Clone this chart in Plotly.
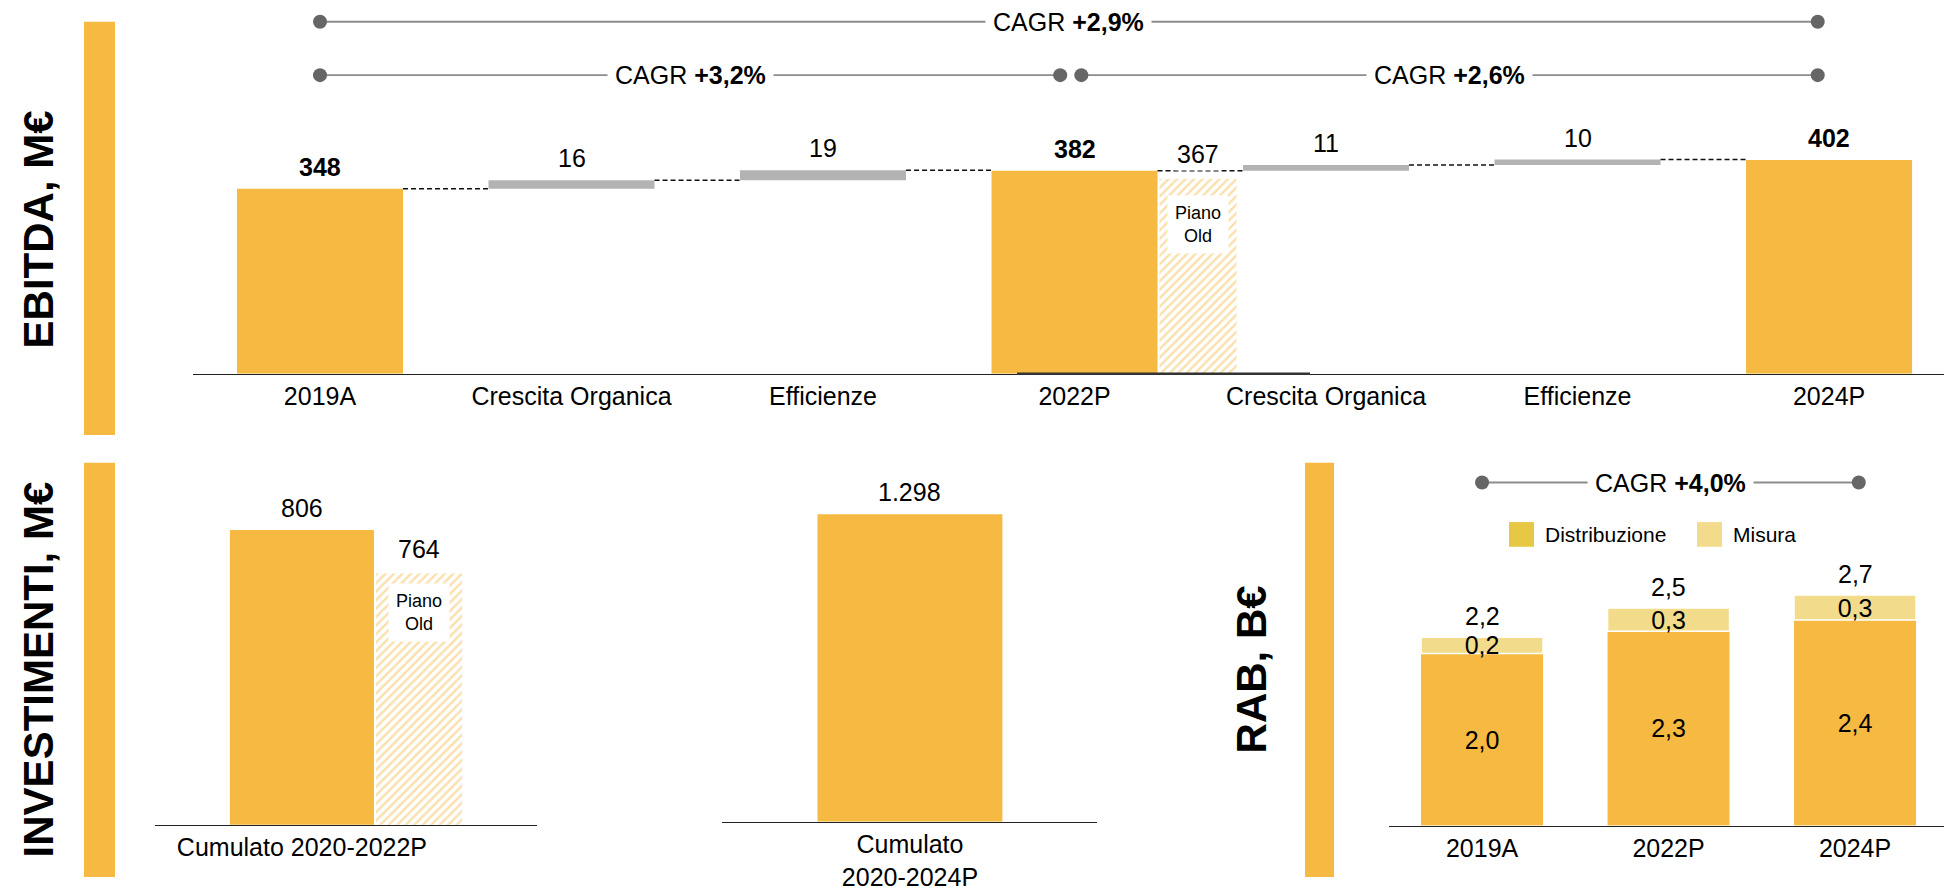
import plotly.graph_objects as go

W, H = 1944, 891
FONT = "Arial, Liberation Sans, sans-serif"
ORANGE = "#F6B942"
GREY = "#B3B3B3"
MISURA = "#F2DC8C"
DISTR_LEG = "#E7C845"
HATCH = "#F6C058"
DOT = "#666666"
LINE = "#8C8C8C"

# ---------------- data ----------------
ebitda_cats = ["2019A", "Crescita Organica", "Efficienze", "2022P",
               "Crescita Organica", "Efficienze", "2024P"]
ebitda_vals = [348, 16, 19, 382, 11, 10, 402]
ebitda_kind = ["total", "delta", "delta", "total", "delta", "delta", "total"]
ebitda_old_2022 = 367
cagr_all = "+2,9%"
cagr_19_22 = "+3,2%"
cagr_22_24 = "+2,6%"

inv_cat_a = ["Cumulato 2020-2022P"]
inv_val_a = [806]
inv_old_a = [764]
inv_cat_b = ["Cumulato<br>2020-2024P"]
inv_val_b = [1298]
inv_lbl_a = ["806"]
inv_lbl_old = ["764"]
inv_lbl_b = ["1.298"]

rab_cats = ["2019A", "2022P", "2024P"]
rab_distr = [2.0, 2.26, 2.39]
rab_misura = [0.19, 0.27, 0.29]
rab_distr_lbl = ["2,0", "2,3", "2,4"]
rab_misura_lbl = ["0,2", "0,3", "0,3"]
rab_tot_lbl = ["2,2", "2,5", "2,7"]
cagr_rab = "+4,0%"


def px(x):
    return x / W


def py(y):
    return 1 - y / H


fig = go.Figure()
ann = []
shapes = []

# ---------------- EBITDA waterfall ----------------
BW = 0.66
idx = list(range(len(ebitda_cats)))
bases, tops = [], []
run = 0
for v, k in zip(ebitda_vals, ebitda_kind):
    if k == "total":
        bases.append(0)
        run = v
    else:
        bases.append(run)
        run += v
    tops.append(run)
colors = [ORANGE if k == "total" else GREY for k in ebitda_kind]
fig.add_trace(go.Bar(x=idx, y=ebitda_vals, base=bases, width=BW,
                     marker=dict(color=colors, line=dict(width=0)),
                     xaxis="x", yaxis="y", hoverinfo="skip", showlegend=False))
i22 = ebitda_cats.index("2022P")
OLD_OFF, OLD_W = BW / 2 + 0.008, 0.306
PATTERN = dict(shape="/", fgcolor=HATCH, bgcolor="white", size=6, solidity=0.4)
fig.add_trace(go.Bar(x=[i22], y=[ebitda_old_2022], offset=OLD_OFF, width=OLD_W,
                     marker=dict(color="white", line=dict(width=0), pattern=PATTERN),
                     xaxis="x", yaxis="y", hoverinfo="skip", showlegend=False))
# connectors
for i in range(len(idx) - 1):
    shapes.append(dict(type="line", xref="x", yref="y", x0=i + BW / 2, x1=i + 1 - BW / 2,
                       y0=tops[i], y1=tops[i], line=dict(color="#111", width=1.5, dash="5px,3px")))
# value labels
for i, (v, k) in enumerate(zip(ebitda_vals, ebitda_kind)):
    txt = f"<b>{v}</b>" if k == "total" else f"{v}"
    ann.append(dict(x=i, y=tops[i], xref="x", yref="y", text=txt, showarrow=False,
                    xanchor="center", yanchor="middle", yshift=22,
                    font=dict(size=25, color="#000")))
old_x = i22 + OLD_OFF + OLD_W / 2
ann.append(dict(x=old_x, y=ebitda_old_2022, xref="x", yref="y", text=str(ebitda_old_2022),
                showarrow=False, xanchor="center", yanchor="middle", yshift=25,
                bgcolor="white", borderpad=2, font=dict(size=25, color="#000")))
ann.append(dict(x=old_x, y=ebitda_old_2022, xref="x", yref="y", text="Piano<br>Old",
                showarrow=False, xanchor="center", yanchor="top", yshift=-16,
                bgcolor="white", borderpad=7, font=dict(size=18, color="#000")))


# CAGR lines
def cagr_line(xref, x0, x1, ypix, label):
    yp = py(ypix)
    shapes.append(dict(type="line", xref=xref, yref="paper", x0=x0, x1=x1, y0=yp, y1=yp,
                       line=dict(color=LINE, width=1.8), layer="below"))
    for xx in (x0, x1):
        shapes.append(dict(type="circle", xref=xref, yref="paper", xsizemode="pixel",
                           ysizemode="pixel", xanchor=xx, yanchor=yp, x0=-7, x1=7, y0=-7, y1=7,
                           fillcolor=DOT, line=dict(width=0)))
    ann.append(dict(x=(x0 + x1) / 2, y=yp, xref=xref, yref="paper",
                    text=f"CAGR <b>{label}</b>", showarrow=False, bgcolor="white",
                    xanchor="center", yanchor="middle",
                    borderpad=7, font=dict(size=25, color="#000")))


cagr_line("x", 0, 5.955, 22, cagr_all)
cagr_line("x", 0, 2.943, 76, cagr_19_22)
cagr_line("x", 3.027, 5.955, 76, cagr_22_24)

# ---------------- Investimenti ----------------
BWA = 0.5
fig.add_trace(go.Bar(x=inv_cat_a, y=inv_val_a, width=BWA, marker=dict(color=ORANGE, line=dict(width=0)),
                     xaxis="x2", yaxis="y2", hoverinfo="skip", showlegend=False))
IOLD_OFF, IOLD_W = 0.257, 0.299
fig.add_trace(go.Bar(x=inv_cat_a, y=inv_old_a, offset=IOLD_OFF, width=IOLD_W,
                     marker=dict(color="white", line=dict(width=0), pattern=PATTERN),
                     xaxis="x2", yaxis="y2", hoverinfo="skip", showlegend=False))
ann.append(dict(x=0, y=inv_val_a[0], xref="x2", yref="y2", text=inv_lbl_a[0], showarrow=False,
                xanchor="center", yanchor="middle", yshift=22, font=dict(size=25, color="#000")))
ioldx = IOLD_OFF + IOLD_W / 2
ann.append(dict(x=ioldx, y=inv_old_a[0], xref="x2", yref="y2", text=inv_lbl_old[0], showarrow=False,
                xanchor="center", yanchor="middle", yshift=24, font=dict(size=25, color="#000")))
ann.append(dict(x=ioldx, y=inv_old_a[0], xref="x2", yref="y2", text="Piano<br>Old",
                showarrow=False, xanchor="center", yanchor="top", yshift=-10,
                bgcolor="white", borderpad=7, font=dict(size=18, color="#000")))

fig.add_trace(go.Bar(x=inv_cat_b, y=inv_val_b, width=0.6, marker=dict(color=ORANGE, line=dict(width=0)),
                     xaxis="x3", yaxis="y3", hoverinfo="skip", showlegend=False))
ann.append(dict(x=0, y=inv_val_b[0], xref="x3", yref="y3", text=inv_lbl_b[0], showarrow=False,
                xanchor="center", yanchor="middle", yshift=22, font=dict(size=25, color="#000")))

# ---------------- RAB ----------------
RBW = 0.654
fig.add_trace(go.Bar(x=rab_cats, y=rab_distr, width=RBW, name="Distribuzione",
                     marker=dict(color=ORANGE, line=dict(width=0)),
                     text=rab_distr_lbl, textposition="inside", insidetextanchor="middle",
                     textangle=0, constraintext="none",
                     textfont=dict(size=25, color="#000"),
                     xaxis="x4", yaxis="y4", hoverinfo="skip", showlegend=False))
fig.add_trace(go.Bar(x=rab_cats, y=rab_misura, base=rab_distr, width=RBW, name="Misura",
                     marker=dict(color=MISURA, line=dict(width=1.5, color="white")),
                     text=rab_misura_lbl, textposition="inside", insidetextanchor="middle",
                     textangle=0, constraintext="none",
                     textfont=dict(size=25, color="#000"),
                     xaxis="x4", yaxis="y4", hoverinfo="skip", showlegend=False))
for c, d, m, t in zip(rab_cats, rab_distr, rab_misura, rab_tot_lbl):
    ann.append(dict(x=c, y=d + m, xref="x4", yref="y4", text=t, showarrow=False,
                    xanchor="center", yanchor="middle", yshift=21,
                    font=dict(size=25, color="#000")))
cagr_line("x4", 0, 2.02, 488, cagr_rab)

# legend (manual)
for x0, col, label in ((1509, DISTR_LEG, "Distribuzione"), (1697, MISURA, "Misura")):
    shapes.append(dict(type="rect", xref="paper", yref="paper", x0=px(x0), x1=px(x0 + 25),
                       y0=py(553), y1=py(528), fillcolor=col, line=dict(width=0)))
    ann.append(dict(x=px(x0 + 34), y=py(541), xref="paper", yref="paper", text=label,
                    showarrow=False, xanchor="left", yanchor="middle",
                    font=dict(size=21, color="#000")))

# ---------------- side stripes & titles ----------------
for x0, x1, y0, y1 in ((84, 115, 22, 440), (84, 115, 468, 887), (1305, 1334, 468, 887)):
    shapes.append(dict(type="rect", xref="paper", yref="paper", x0=px(x0), x1=px(x1),
                       y0=py(y1), y1=py(y0), fillcolor=ORANGE, line=dict(width=0)))
for xc, yc, t in ((38, 232, "EBITDA, M€"), (38, 677, "INVESTIMENTI, M€"), (1251, 677, "RAB, B€")):
    ann.append(dict(x=px(xc), y=py(yc), xref="paper", yref="paper", text=f"<b>{t}</b>",
                    textangle=-90, showarrow=False, xanchor="center", yanchor="middle",
                    font=dict(size=42, color="#000")))

# thicker axis segment under 2022P (as in reference)
shapes.append(dict(type="line", xref="paper", yref="paper", x0=px(1017), x1=px(1310),
                   y0=py(378), y1=py(378), line=dict(color="#333", width=2.5)))

xa = dict(showgrid=False, zeroline=False, showline=True, linecolor="#222", linewidth=1.5,
          ticks="", tickfont=dict(size=25, color="#000"), fixedrange=True)
ya = dict(visible=False, showgrid=False, zeroline=False, fixedrange=True)

fig.update_layout(
    width=W, height=H, margin=dict(l=0, r=0, t=0, b=0, pad=0),
    paper_bgcolor="white", plot_bgcolor="white",
    font=dict(family=FONT, color="#000"),
    barmode="overlay", showlegend=False,
    xaxis=dict(xa, domain=[px(193), 1], range=[-0.505, 6.457], anchor="y",
               tickmode="array", tickvals=idx, ticktext=ebitda_cats),
    yaxis=dict(ya, domain=[py(378), py(95)], range=[0, (378 - 95) / 0.5375], anchor="x"),
    xaxis2=dict(xa, domain=[px(155), px(537)], range=[-0.51, 0.816], anchor="y2", type="category"),
    yaxis2=dict(ya, domain=[py(834), py(470)], range=[521.5, 869], anchor="x2"),
    xaxis3=dict(xa, domain=[px(722), px(1097)], range=[-0.61, 0.607], anchor="y3", type="category"),
    yaxis3=dict(ya, domain=[py(831), py(470)], range=[0, (831 - 470) / 0.2396], anchor="x3"),
    xaxis4=dict(xa, domain=[px(1389), 1], range=[-0.499, 2.477], anchor="y4", type="category"),
    yaxis4=dict(ya, domain=[py(835), py(560)], range=[0, 275 / 87], anchor="x4"),
    annotations=ann, shapes=shapes,
)

fig.write_html(
    "out.html",
    config={"displayModeBar": False, "staticPlot": True},
    post_script=("document.documentElement.style.margin='0';"
                 "document.documentElement.style.overflow='hidden';"
                 "document.body.style.margin='0';document.body.style.padding='0';"
                 "document.body.style.overflow='hidden';"),
)
